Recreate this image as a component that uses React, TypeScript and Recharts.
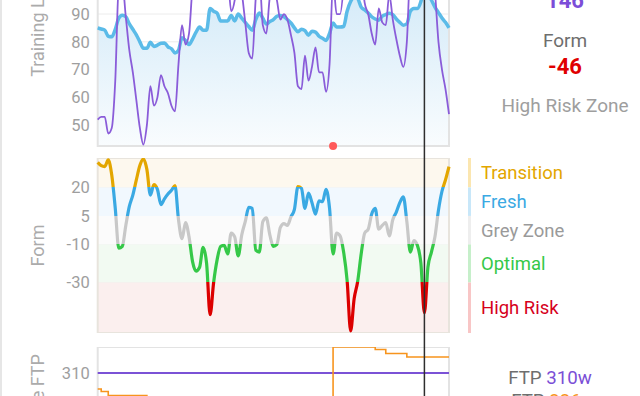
import React from 'react';
import {
  ComposedChart,
  Line,
  Area,
  XAxis,
  YAxis,
  CartesianGrid,
  ReferenceArea,
  ReferenceLine,
  ReferenceDot,
} from 'recharts';

// daily values across the visible window, day 0 .. day 100
const fitness = [
  85, 84.6, 84.2, 82, 81.8, 84.5, 88.5, 89.6, 89, 86.5,
  84.5, 82.5, 80, 77.7, 77.7, 79.8, 78.3, 78.8, 79.5, 79.6,
  78.2, 77.5, 76, 77, 81.5, 80.5, 79, 81, 83.5, 85.3,
  84.2, 84.2, 92, 91, 90.3, 87.5, 87.5, 87.5, 89.5, 87.5,
  90, 88.5, 87, 85.5, 84.2, 88, 90.4, 88.5, 86.4, 87.3,
  88, 89.2, 89.5, 89, 88, 86.8, 85, 83.6, 84.5, 84,
  82.4, 83.8, 83.5, 82, 81.3, 80.5, 83, 86.8, 85.3, 85.3,
  85.5, 91, 94.5, 96, 95.5, 92.5, 91.5, 90.4, 89, 88.2,
  87.8, 89.2, 89.8, 90.3, 89.8, 88.2, 87, 86, 86.5, 91,
  92, 92, 94.5, 100, 98, 95, 92.5, 90.5, 88.6, 87, 85,
];

const fatigue = [
  52, 53, 53, 47, 49, 66, 100, 101, 89, 77,
  69, 59, 49, 43, 50, 64, 57, 60, 68, 64,
  61.5, 57, 55, 72, 86, 79, 83, 100, 107, 107,
  96, 104, 139, 121, 108, 98.5, 98, 102.5, 91, 95,
  106, 98, 87, 76, 74, 96, 104, 86, 83, 96,
  99, 95, 88, 90, 88, 82.5, 76, 64, 63, 75,
  66, 71, 78, 69, 69, 62, 72, 102, 90, 90,
  100, 120, 150, 134, 125, 107, 94, 90, 83, 79,
  92, 87, 86, 97, 88, 81, 75, 71, 80, 105,
  100, 102.5, 114.5, 146, 120, 109, 98, 80, 70, 63, 54,
];

const form = [
  33.2, 31.5, 31, 34.5, 26.5, 9, -12, -11, 0, 10,
  16, 24, 31.5, 35, 29.5, 16, 21.5, 19, 11, 14,
  16.5, 18.5, 21, 3, -7, 1.5, -6, -19, -24, -22,
  -11.5, -20, -47, -30, -18, -11, -10.5, -15, -4, -6,
  -16, -5, 2, 9.5, 9, -13, -14, 2, 4, -5,
  -11, -10, -1, 1, 0, 4.5, 8.5, 20.5, 19.5, 9,
  17, 12, 6, 13, 12.5, 19, 9, -15, -4, -5.5,
  -14, -29, -55.5, -38.5, -29.5, -15, -4, -2, 6, 9,
  -2, 0, 1.5, -5.5, 3, 7, 12, 15, 2, -14,
  -8, -10.5, -20, -46, -22, -14, -6, 8, 18, 24, 31,
];

// eFTP only changes on a few days
const eftpDays = [0, 1, 3, 14, 41, 67, 79, 82, 88, 100];
const eftpWatts = [294, 291.5, 287.5, 282, 278, 336, 333.5, 329.5, 326, 326];
const FTP = 310;

// day with an event marker, and the selected day
const EVENT_DAY = 67;
const CURSOR = 93;

const loadTicks = [50, 60, 70, 80, 90];
const formTicks = [-30, -10, 5, 20];
const zoneNames = ['Transition', 'Fresh', 'Grey Zone', 'Optimal', 'High Risk'];
const zoneEdges = [20, 5, -10, -30];

const LOAD_DOMAIN: [number, number] = [42.5, 131.4];
const FORM_DOMAIN: [number, number] = [-56.6, 35.5];
const FTP_DOMAIN: [number, number] = [250, 336];

const zoneLine = ['#e3a600', '#3aa9e3', '#c8c8c8', '#35c848', '#dc0000'];
const zoneBand = ['#fdf8ee', '#f1f8fe', '#fbfbfb', '#f2faf2', '#fbefee'];
const zoneBar = ['#fbe6b0', '#c8e7f9', '#eeeeee', '#c6efca', '#f8c6c6'];
const zoneText = ['#e3a600', '#3aa9e3', '#9a9a9a', '#35c848', '#d6001c'];

const rows = fitness.map((v, i) => ({
  day: i,
  fitness: v,
  fatigue: fatigue[i],
  form: form[i],
}));
const eftpRows = eftpDays.map((d, i) => ({ day: d, eftp: eftpWatts[i] }));

const zones = zoneNames.map((name, k) => ({
  name,
  hi: k === 0 ? FORM_DOMAIN[1] : zoneEdges[k - 1],
  lo: k === zoneEdges.length ? FORM_DOMAIN[0] : zoneEdges[k],
}));
const keyRows = [
  { k: 0, v: FORM_DOMAIN[0] },
  { k: 1, v: FORM_DOMAIN[1] },
];

const zoneOf = (v: number) => zones.findIndex((z) => v >= z.lo && v <= z.hi);

const CHART_W = 460;
const AXIS_W = 97.7;
const margin = { top: 0, right: 11, bottom: 0, left: 0 };
const tickStyle = { fill: '#9e9e9e', fontSize: 16.5 };
const axisLabel = (value: string) => ({
  value,
  angle: -90,
  position: 'insideLeft' as const,
  offset: 38,
  fill: '#ababab',
  fontSize: 18,
  style: { textAnchor: 'middle' },
});

const formMax = Math.max(...form);
const formMin = Math.min(...form);
const off = (v: number) => Math.min(1, Math.max(0, (formMax - v) / (formMax - formMin)));

export default function App() {
  const cursorZone = zoneOf(form[CURSOR]);
  const eftpNow = eftpWatts[eftpDays.filter((d) => d <= CURSOR).length - 1];
  return (
    <div
      style={{
        position: 'fixed',
        left: 0,
        top: 0,
        width: 640,
        height: 396,
        overflow: 'hidden',
        background: '#fff',
        fontFamily: 'Roboto, sans-serif',
        borderLeft: '2.5px solid #e6e6e6',
        boxSizing: 'border-box',
      }}
    >
      {/* training load */}
      <div style={{ position: 'absolute', left: -2.5, top: -101 }}>
        <ComposedChart
          width={CHART_W}
          height={253}
          data={rows}
          margin={{ ...margin, bottom: 6 }}
        >
          <defs>
            <linearGradient id="fitFill" x1="0" y1="0" x2="0" y2="1">
              <stop offset="0" stopColor="#d3eaf8" />
              <stop offset="1" stopColor="#f9fcfe" />
            </linearGradient>
          </defs>
          <CartesianGrid vertical={false} stroke="#ececec" />
          <XAxis dataKey="day" type="number" domain={[0, 100]} hide />
          <YAxis
            domain={LOAD_DOMAIN}
            ticks={loadTicks}
            allowDataOverflow
            width={AXIS_W}
            axisLine={false}
            tickLine={false}
            tick={tickStyle}
            label={axisLabel('Training Load')}
          />
          <Area
            dataKey="fitness"
            type="monotone"
            stroke="none"
            fill="url(#fitFill)"
            fillOpacity={1}
            isAnimationActive={false}
          />
          <Line
            dataKey="fitness"
            type="monotone"
            stroke="#5bbbe8"
            strokeWidth={3.5}
            dot={false}
            isAnimationActive={false}
          />
          <Line
            dataKey="fatigue"
            type="monotone"
            stroke="#8a5cd9"
            strokeWidth={1.8}
            dot={false}
            isAnimationActive={false}
          />
          <ReferenceArea
            x1={0}
            x2={100}
            y1={LOAD_DOMAIN[0]}
            y2={LOAD_DOMAIN[1]}
            fill="none"
            stroke="#e3e3e3"
            strokeWidth={2}
          />
          <ReferenceDot
            x={EVENT_DAY}
            y={LOAD_DOMAIN[0]}
            r={4}
            fill="#ff5a5a"
            stroke="none"
            ifOverflow="visible"
          />
        </ComposedChart>
      </div>

      {/* form */}
      <div style={{ position: 'absolute', left: -2.5, top: 158 }}>
        <ComposedChart width={CHART_W} height={175} data={rows} margin={margin}>
          <defs>
            <linearGradient id="formStroke" x1="0" y1="0" x2="0" y2="1">
              {zones.map((z, k) => [
                <stop key={`a${k}`} offset={off(z.hi)} stopColor={zoneLine[k]} />,
                <stop key={`b${k}`} offset={off(z.lo)} stopColor={zoneLine[k]} />,
              ])}
            </linearGradient>
          </defs>
          {zones.map((z, k) => (
            <ReferenceArea
              key={z.name}
              x1={0}
              x2={100}
              y1={z.lo}
              y2={z.hi}
              fill={zoneBand[k]}
              fillOpacity={1}
              stroke="none"
            />
          ))}
          <CartesianGrid vertical={false} stroke="#ececec" />
          <XAxis dataKey="day" type="number" domain={[0, 100]} hide />
          <YAxis
            domain={FORM_DOMAIN}
            ticks={formTicks}
            allowDataOverflow
            width={AXIS_W}
            axisLine={false}
            tickLine={false}
            tick={tickStyle}
            label={axisLabel('Form')}
          />
          <Line
            dataKey="form"
            type="monotone"
            stroke="url(#formStroke)"
            strokeWidth={3.2}
            dot={false}
            isAnimationActive={false}
          />
          <ReferenceArea
            x1={0}
            x2={100}
            y1={FORM_DOMAIN[0]}
            y2={FORM_DOMAIN[1]}
            fill="none"
            stroke="#e8e4dd"
            strokeWidth={2}
          />
        </ComposedChart>
      </div>

      {/* zone key */}
      <div style={{ position: 'absolute', left: 465.5, top: 158 }}>
        <ComposedChart
          width={170}
          height={175}
          data={keyRows}
          margin={{ top: 0, right: 167, bottom: 0, left: 0 }}
        >
          <XAxis dataKey="k" type="number" domain={[0, 1]} hide />
          <YAxis domain={FORM_DOMAIN} allowDataOverflow hide />
          <Line dataKey="v" stroke="none" dot={false} isAnimationActive={false} />
          {zones.map((z, k) => (
            <ReferenceArea
              key={z.name}
              x1={0}
              x2={1}
              y1={z.lo}
              y2={z.hi}
              fill={zoneBar[k]}
              fillOpacity={1}
              stroke="none"
              label={{
                value: z.name,
                position: 'right',
                offset: 10,
                fill: zoneText[k],
                fontSize: 18.5,
              }}
            />
          ))}
        </ComposedChart>
      </div>

      {/* ftp */}
      <div style={{ position: 'absolute', left: -2.5, top: 346.5 }}>
        <ComposedChart width={CHART_W} height={86} data={eftpRows} margin={margin}>
          <XAxis dataKey="day" type="number" domain={[0, 100]} hide />
          <YAxis
            domain={FTP_DOMAIN}
            ticks={[FTP]}
            allowDataOverflow
            width={AXIS_W}
            axisLine={false}
            tickLine={false}
            tick={tickStyle}
            label={axisLabel('Ride FTP')}
          />
          <ReferenceLine y={FTP} stroke="#7b52d6" strokeWidth={2.2} />
          <Line
            dataKey="eftp"
            type="stepAfter"
            stroke="#f7941d"
            strokeWidth={1.6}
            dot={false}
            isAnimationActive={false}
          />
          <ReferenceArea
            x1={0}
            x2={100}
            y1={FTP_DOMAIN[0]}
            y2={FTP_DOMAIN[1]}
            fill="none"
            stroke="#e3e3e3"
            strokeWidth={2}
          />
        </ComposedChart>
      </div>

      {/* cursor */}
      <div style={{ position: 'absolute', left: -2.5, top: 0, pointerEvents: 'none' }}>
        <ComposedChart
          width={CHART_W}
          height={396}
          data={rows}
          margin={{ top: 0, right: 11, bottom: 0, left: AXIS_W }}
        >
          <XAxis dataKey="day" type="number" domain={[0, 100]} hide />
          <YAxis domain={FORM_DOMAIN} allowDataOverflow hide />
          <Line dataKey="form" stroke="none" dot={false} isAnimationActive={false} />
          <ReferenceLine x={CURSOR} stroke="#2e2e2e" strokeWidth={1.5} />
        </ComposedChart>
      </div>

      {/* readouts */}
      <svg
        width={640}
        height={396}
        style={{ position: 'absolute', left: -2.5, top: 0, pointerEvents: 'none' }}
      >
        <g textAnchor="middle">
          <text x={565} y={8} fill="#7c4dd8" fontSize={22} fontWeight="bold">
            {fatigue[CURSOR]}
          </text>
          <text x={565} y={46.7} fill="#6e6e6e" fontSize={19}>
            Form
          </text>
          <text x={565} y={74} fill="#e00000" fontSize={22} fontWeight="bold">
            {form[CURSOR]}
          </text>
          <text x={565} y={111.7} fill="#9e9e9e" fontSize={19}>
            {zoneNames[cursorZone]} Zone
          </text>
          <text x={550} y={384.3} fontSize={18.7}>
            <tspan fill="#6e6e6e">FTP </tspan>
            <tspan fill="#7b4fd6">{FTP}w</tspan>
          </text>
          <text x={548} y={407} fontSize={18.7}>
            <tspan fill="#6e6e6e">eFTP </tspan>
            <tspan fill="#f7941d">{eftpNow}w</tspan>
          </text>
        </g>
      </svg>
    </div>
  );
}
